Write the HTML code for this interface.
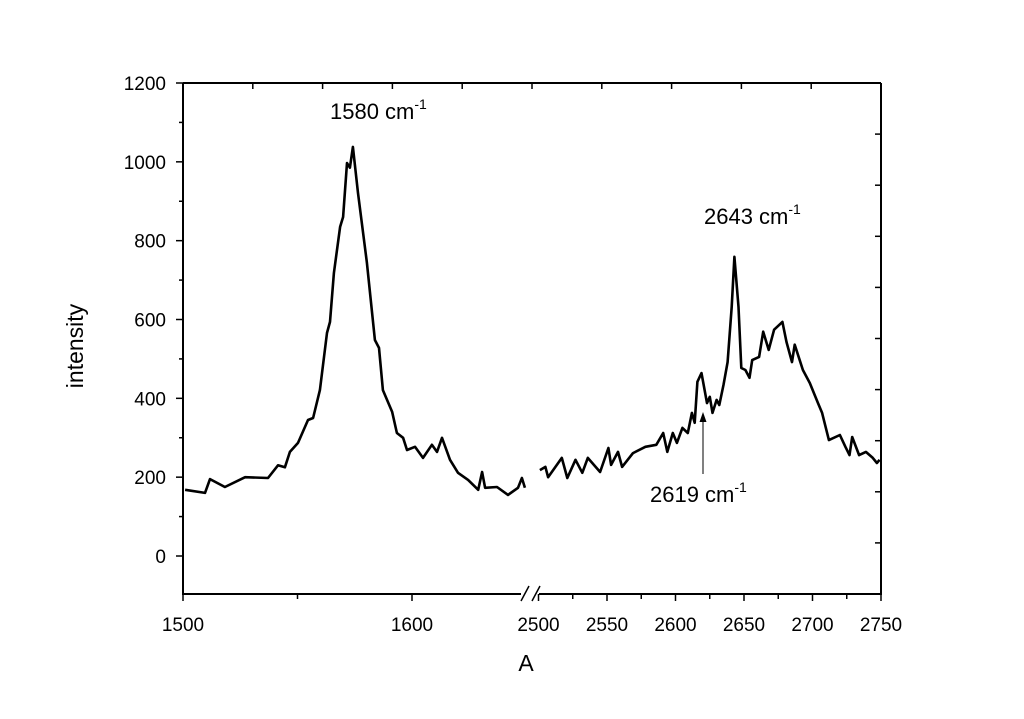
<!DOCTYPE html>
<html><head><meta charset="utf-8"><style>
body{margin:0;background:#fff;}
svg text{font-family:"Liberation Sans",Arial,sans-serif;fill:#000;}
</style></head><body>
<svg id="chart" width="1024" height="714" viewBox="0 0 1024 714" xmlns="http://www.w3.org/2000/svg">
<rect width="1024" height="714" fill="#fff"/>
<g id="axes"></g>
<g id="series"></g>
<text x="0" y="0" font-size="23" text-anchor="middle" transform="translate(83,346) rotate(-90)">intensity</text>
<text x="526" y="671" font-size="23" text-anchor="middle">A</text>
<text x="330" y="119" font-size="22">1580 cm<tspan font-size="14" dy="-10">-1</tspan></text>
<text x="704" y="224" font-size="22">2643 cm<tspan font-size="14" dy="-10">-1</tspan></text>
<text x="650" y="502" font-size="22">2619 cm<tspan font-size="14" dy="-10">-1</tspan></text>
<line x1="703" y1="474" x2="703" y2="420" stroke="#000" stroke-width="1"/>
<polygon points="703,412 699.5,422 706.5,422" fill="#000"/>
</svg>
<script>
const leftX=[1500.9,1509.6,1511.8,1518.3,1527.1,1537.1,1541.5,1544.5,1546.7,1550.2,1554.6,1556.8,1559.8,1562.9,1564.2,1565.9,1568.6,1569.9,1571.6,1572.9,1574.2,1576.4,1580.3,1583.8,1585.6,1587.3,1591.3,1593.4,1596.1,1597.8,1601.3,1604.8,1608.7,1610.9,1613.1,1616.6,1620.1,1624.5,1628.9,1630.6,1631.9,1637.1,1641.9,1646.3,1648,1649.3];
const leftY=[168,160,195,175,200,198,230,225,264,287,345,350,421,566,594,718,835,860,997,985,1038,921,744,548,528,421,366,312,300,269,277,249,282,264,300,244,211,193,168,213,173,175,155,173,198,173];
const rightX=[2501,2505,2507,2517,2521,2527,2532,2536,2545,2551,2553,2558,2561,2569,2578,2586,2591,2594,2598,2601,2605,2609,2612,2614,2616,2619,2623,2625,2627,2630,2632,2635,2638,2641,2643,2646,2648,2651,2654,2656,2661,2664,2668,2672,2678,2681,2685,2687,2693,2698,2704,2707,2712,2720,2724,2727,2729,2734,2739,2744,2747,2749];
const rightY=[218,226,200,249,198,244,211,249,213,274,231,264,226,261,277,282,312,264,312,287,325,312,363,338,442,464,388,404,363,396,383,434,492,632,759,632,477,472,452,497,505,569,523,574,594,543,492,536,472,439,388,363,294,307,277,256,302,256,264,249,236,244];
const yTicks=[0,200,400,600,800,1000,1200];
const xTicksLeft=[1500,1600];
const xTicksRight=[2500,2550,2600,2650,2700,2750];

const L=183,R=881,T=83,B=594;
const sy=v=>556-v*(556-83)/1200;
const sxL=w=>183+(w-1500)*2.29;
const sxR=w=>538.5+(w-2500)*(881-538.5)/250;
const NS='http://www.w3.org/2000/svg';
const ax=document.getElementById('axes');
const se=document.getElementById('series');
function mk(tag,attrs,parent){const e=document.createElementNS(NS,tag);for(const k in attrs)e.setAttribute(k,attrs[k]);parent.appendChild(e);return e;}

let e;
e=mk('line',{x1:L,y1:T,x2:L,y2:B,stroke:'#000','stroke-width':2},ax);


e=mk('line',{x1:R,y1:T,x2:R,y2:B,stroke:'#000','stroke-width':2},ax);


e=mk('line',{x1:L,y1:T,x2:R,y2:T,stroke:'#000','stroke-width':2},ax);


e=mk('line',{x1:L-1,y1:B,x2:521,y2:B,stroke:'#000','stroke-width':2},ax);


e=mk('line',{x1:539,y1:B,x2:R+1,y2:B,stroke:'#000','stroke-width':2},ax);


[[521,601,529,586],[532,601,540,586]].forEach(p=>{
  const b=mk('line',{x1:p[0],y1:p[1],x2:p[2],y2:p[3],stroke:'#000','stroke-width':1.5},ax);
  
  
});
yTicks.forEach(v=>{
  const y=sy(v);
  const t=mk('line',{x1:L-7,y1:y,x2:L,y2:y,stroke:'#000','stroke-width':1.5},ax);
  
  
  const tx=mk('text',{x:166,y:y+7,'font-size':19,'text-anchor':'end'},ax);
  tx.textContent=v;
  
  
  if(v<1200){const m=mk('line',{x1:L-4,y1:sy(v+100),x2:L,y2:sy(v+100),stroke:'#000','stroke-width':1.5},ax);
  
  }
});
for(let k=1;k<10;k++){
  const y=T+k*(B-T)/10;
  const t=mk('line',{x1:R-6,y1:y,x2:R,y2:y,stroke:'#000','stroke-width':1.5},ax);
  
  
  const x=L+k*(R-L)/10;
  const u=mk('line',{x1:x,y1:T,x2:x,y2:T+6,stroke:'#000','stroke-width':1.5},ax);
  
  
}
function xt(x,lab,minor){
  const t=mk('line',{x1:x,y1:B,x2:x,y2:B+(minor?5:7),stroke:'#000','stroke-width':1.5},ax);
  
  
  if(lab!==null){const tx=mk('text',{x:x,y:B+37,'font-size':19,'text-anchor':'middle'},ax);
  tx.textContent=lab;
  
  }
}
xTicksLeft.forEach(w=>{xt(sxL(w),w,false);});
xt(sxL(1550),null,true);
xTicksRight.forEach((w,i)=>{xt(sxR(w),w,false); if(i<xTicksRight.length-1) xt(sxR(w+25),null,true);});

function path(xs,ys,sx){return xs.map((w,i)=>(i?'L':'M')+sx(w).toFixed(1)+','+sy(ys[i]).toFixed(1)).join(' ');}
e=mk('path',{d:path(leftX,leftY,sxL),fill:'none',stroke:'#000','stroke-width':2.6,'stroke-linejoin':'round'},se);


e=mk('path',{d:path(rightX,rightY,sxR),fill:'none',stroke:'#000','stroke-width':2.6,'stroke-linejoin':'round'},se);


</script>
</body></html>
